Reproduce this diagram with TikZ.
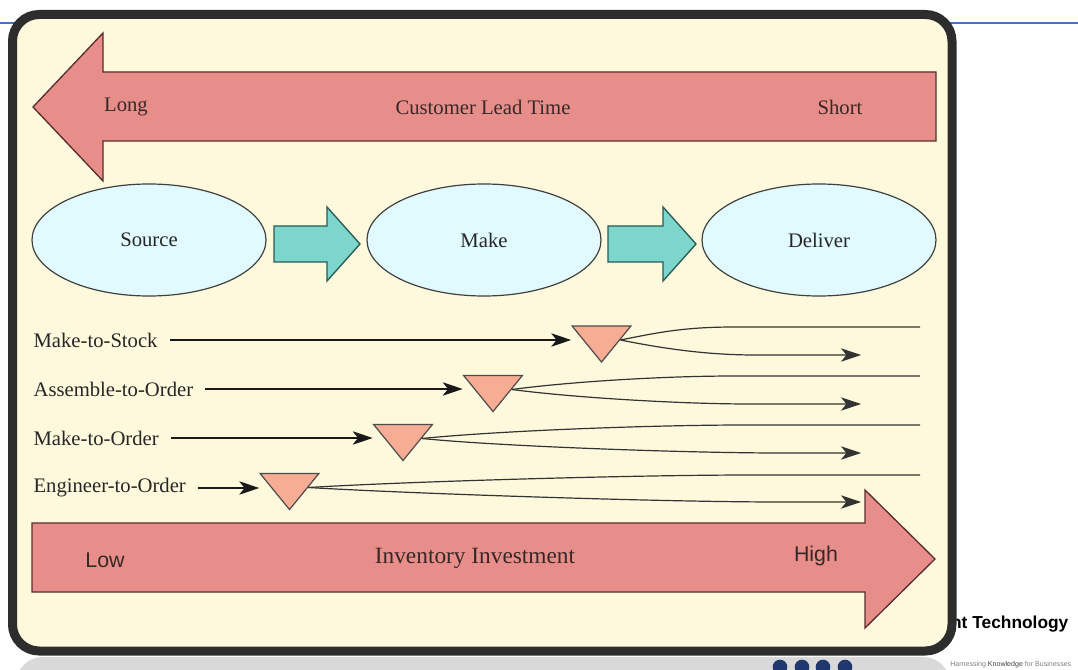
\documentclass[tikz,border=0pt]{standalone}
\usepackage{fontspec}
\setmainfont{Liberation Serif}
\newfontfamily\sansf{Liberation Sans}
\usetikzlibrary{shapes.geometric,arrows.meta}
\definecolor{cream}{RGB}{254,249,220}
\definecolor{pinkarr}{RGB}{232,142,138}
\definecolor{pinkline}{RGB}{90,45,45}
\definecolor{cyanfill}{RGB}{224,250,255}
\definecolor{tealfill}{RGB}{125,214,203}
\definecolor{tealline}{RGB}{40,90,85}
\definecolor{trifill}{RGB}{247,173,147}
\definecolor{slideblue}{RGB}{68,114,196}
\definecolor{dotblue}{RGB}{31,56,110}
\definecolor{framegray}{RGB}{45,45,45}
\definecolor{textdark}{RGB}{55,40,40}
\newcommand\lblfont{\fontsize{15.5}{18}\selectfont}
\tikzset{
  bigarrow/.style={fill=pinkarr, draw=pinkline, line width=1pt},
  stage/.style={ellipse, draw=black!75, line width=0.9pt, fill=cyanfill,
    minimum width=175.5pt, minimum height=84pt, inner sep=0pt, font=\lblfont, text=black!85},
  tealarrow/.style={fill=tealfill, draw=tealline, line width=1pt},
  decouple/.style={isosceles triangle, isosceles triangle stretches, shape border rotate=270,
    minimum width=44pt, minimum height=27pt, inner sep=0pt, fill=trifill, draw=black!70, line width=0.9pt},
  rowlabel/.style={anchor=west, font=\lblfont, text=black!85, inner sep=1pt},
  arrtext/.style={font=\lblfont, text=textdark},
  sidetext/.style={font=\sansf\fontsize{16}{18}\selectfont, text=textdark},
  tip/.style={-{Stealth[length=15pt,width=10pt,inset=4pt]}},
  flow/.style={draw=black!90, line width=0.9pt, tip, shorten <=8pt, shorten >=8.5pt},
  branch/.style={draw=black!80, line width=0.9pt},
}
\begin{document}
\begin{tikzpicture}[x=0.75pt,y=-0.75pt]
\useasboundingbox (0,0) rectangle (1078,670);
\fill[white] (0,0) rectangle (1078,670);
% slide decorations
\draw[slideblue, line width=1.5pt] (0,23.5) -- (1078,23.5);
\fill[gray!30, rounded corners=20pt] (16,657) rectangle (950,720);
\node[anchor=east, font=\sansf\bfseries\fontsize{13}{15}\selectfont] (brand) at (1073,624) {nt Technology};
\node[anchor=base west, font=\sansf\fontsize{5.3}{7}\selectfont, text=gray, inner sep=0pt] (tag) at (950,666) {Harnessing {\color{gray!50!black}Knowledge} for Businesses};
\foreach \x in {780,802,823,845} \fill[dotblue] (\x,667) circle[radius=5.5pt];
% frame
\draw[framegray, line width=6.75pt, fill=cream, rounded corners=20pt] (12.5,14.5) rectangle (952,651);
% top arrow
\draw[bigarrow] (33,107) -- (103,33) -- (103,72) -- (936,72) -- (936,141) -- (103,141) -- (103,181) -- cycle;
\node[arrtext] (long) at (126,107) {Long};
\node[arrtext] (clt) at (483,107) {Customer Lead Time};
\node[arrtext] (short) at (840,107) {Short};
% stages
\node[stage] (source) at (149,240) {Source};
\node[stage] (make) at (484,240) {Make};
\node[stage] (deliver) at (819,240) {Deliver};
\draw[tealarrow] (274,226) -- (327,226) -- (327,207) -- (360,244) -- (327,281) -- (327,262) -- (274,262) -- cycle;
\draw[tealarrow] (608,226) -- (663,226) -- (663,207) -- (696,244) -- (663,281) -- (663,262) -- (608,262) -- cycle;
% rows
\node[rowlabel] (mts) at (32,340) {Make-to-Stock};
\node[rowlabel] (ato) at (32,389) {Assemble-to-Order};
\node[rowlabel] (mto) at (32,438) {Make-to-Order};
\node[rowlabel] (eto) at (32,488) {Engineer-to-Order};
\node[decouple] (t1) at (601.5,340) {};
\node[decouple] (t2) at (493,389.5) {};
\node[decouple] (t3) at (403,438.5) {};
\node[decouple] (t4) at (289.5,487.5) {};
\draw[flow] (mts.east) -- (mts.east -| t1.west);
\draw[flow] (ato.east) -- (ato.east -| t2.west);
\draw[flow] (mto.east) -- (mto.east -| t3.west);
\draw[flow] (eto.east) -- (eto.east -| t4.west);
% branch end points
\coordinate (u1) at (735,327); \coordinate (u1e) at (920,327);
\coordinate (l1) at (755,355); \coordinate (l1e) at (861,355);
\coordinate (u2) at (735,376); \coordinate (u2e) at (920,376);
\coordinate (l2) at (750,404); \coordinate (l2e) at (861,404);
\coordinate (u3) at (745,425); \coordinate (u3e) at (920,425);
\coordinate (l3) at (780,453); \coordinate (l3e) at (861,453);
\coordinate (u4) at (752,475); \coordinate (u4e) at (920,475);
\coordinate (l4) at (780,502); \coordinate (l4e) at (861,502);
\draw[branch] (t1.east) .. controls +(40,-8) and +(-50,0) .. (u1) -- (u1e);
\draw[branch, tip] (t1.east) .. controls +(40,8) and +(-50,0) .. (l1) -- (l1e);
\draw[branch] (t2.east) .. controls +(60,-8) and +(-70,0) .. (u2) -- (u2e);
\draw[branch, tip] (t2.east) .. controls +(60,8) and +(-70,0) .. (l2) -- (l2e);
\draw[branch] (t3.east) .. controls +(80,-8) and +(-90,0) .. (u3) -- (u3e);
\draw[branch, tip] (t3.east) .. controls +(80,8) and +(-90,0) .. (l3) -- (l3e);
\draw[branch] (t4.east) .. controls +(100,-6) and +(-120,0) .. (u4) -- (u4e);
\draw[branch, tip] (t4.east) .. controls +(100,6) and +(-120,0) .. (l4) -- (l4e);
% bottom arrow
\draw[bigarrow] (32,523) -- (865,523) -- (865,490) -- (935,559) -- (865,628) -- (865,592) -- (32,592) -- cycle;
\node[sidetext] (low) at (105,560) {Low};
\node[font=\fontsize{17.5}{20}\selectfont, text=textdark] (inv) at (475,558) {Inventory Investment};
\node[sidetext] (high) at (816,556) {High};
\end{tikzpicture}
\end{document}
